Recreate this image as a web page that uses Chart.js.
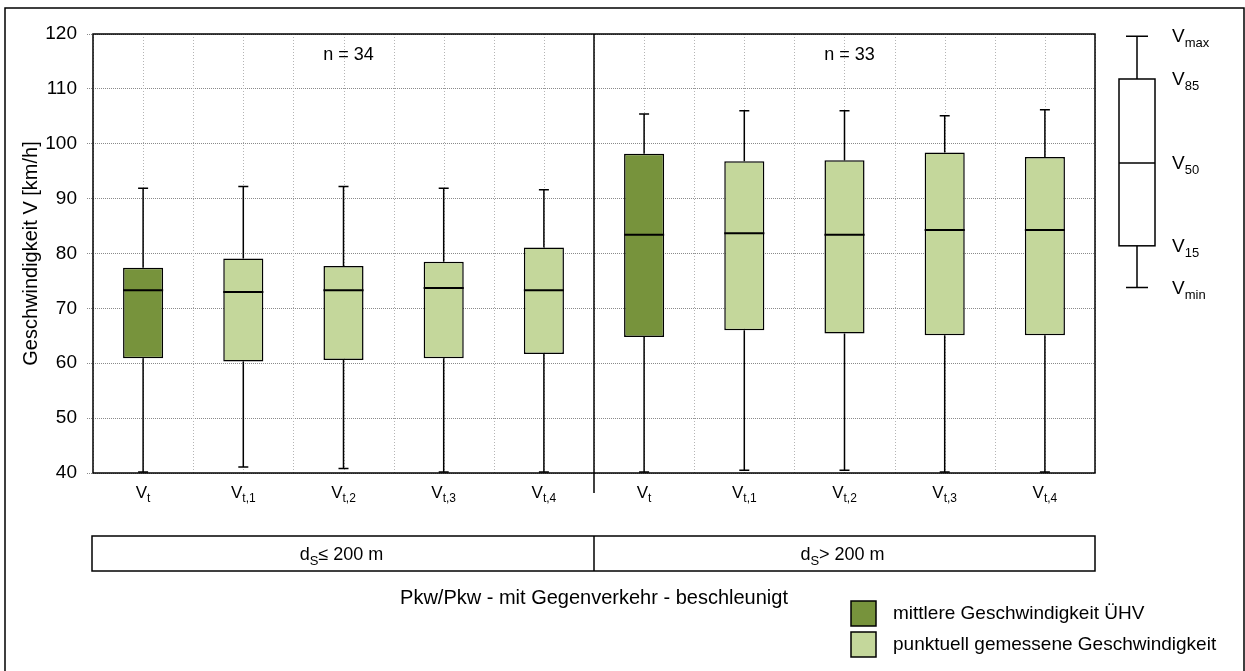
<!DOCTYPE html>
<html>
<head>
<meta charset="utf-8">
<script src="https://cdn.jsdelivr.net/npm/chart.js@4.4.1/dist/chart.umd.min.js"></script>
<style>
    body { margin: 0; background: #fff; }
    #boxChart { display: block; }
</style>
</head>
<body>
<canvas id="boxChart" width="1245" height="671"></canvas>
<script>
// Box plot: Geschwindigkeit V [km/h], Pkw/Pkw - mit Gegenverkehr - beschleunigt

const FONT = '"Liberation Sans", Arial, sans-serif';

// Categories (V with subscript)
const labelBase = ['V', 'V', 'V', 'V', 'V', 'V', 'V', 'V', 'V', 'V'];
const labelSub = ['t', 't,1', 't,2', 't,3', 't,4', 't', 't,1', 't,2', 't,3', 't,4'];

// Values per box (km/h)
const vMin = [40.2, 41.1, 40.8, 40.2, 40.2, 40.2, 40.5, 40.5, 40.2, 40.2];
const v15 = [60.9, 60.3, 60.6, 60.9, 61.7, 64.8, 66.0, 65.4, 65.1, 65.1];
const v50 = [73.3, 73.0, 73.3, 73.7, 73.3, 83.4, 83.7, 83.4, 84.3, 84.3];
const v85 = [77.4, 79.1, 77.7, 78.5, 81.1, 98.2, 96.8, 97.0, 98.4, 97.6];
const vMax = [91.9, 92.2, 92.2, 91.9, 91.6, 105.4, 106.0, 106.0, 105.1, 106.2];

// Group info
const groupLabels = [['d', 'S', '\u2264 200 m'], ['d', 'S', '> 200 m']];
const groupN = ['n = 34', 'n = 33'];
const groupSize = 5;

// Explanation key: V_min, V_15, V_50, V_85, V_max
const keyValues = [73.8, 81.4, 96.5, 111.8, 119.6];
const keySubs = ['min', '15', '50', '85', 'max'];

const yTicks = { min: 40, max: 120, step: 10 };

const colors = {
    dark: '#77933c',
    light: '#c4d79b',
    line: '#000000',
    gridY: '#8a8a8a',
    gridX: '#b4b4b4'
};

const boxColors = labelSub.map((s, i) => (i % groupSize === 0 ? colors.dark : colors.light));

// Draw base text + subscript (+ optional rest), centered or left aligned on x
function drawSubText(ctx, base, sub, rest, x, y, size, subSize, align) {
    ctx.font = size + 'px ' + FONT;
    const wBase = ctx.measureText(base).width;
    ctx.font = subSize + 'px ' + FONT;
    const wSub = ctx.measureText(sub).width;
    ctx.font = size + 'px ' + FONT;
    const wRest = rest ? ctx.measureText(rest).width : 0;
    const total = wBase + wSub + wRest;
    const x0 = align === 'left' ? x : x - total / 2;
    ctx.textAlign = 'left';
    ctx.textBaseline = 'alphabetic';
    ctx.fillText(base, x0, y);
    ctx.font = subSize + 'px ' + FONT;
    ctx.fillText(sub, x0 + wBase, y + Math.round(size * 0.25));
    if (rest) {
        ctx.font = size + 'px ' + FONT;
        ctx.fillText(rest, x0 + wBase + wSub, y);
    }
}

function drawWhiskers(ctx, xPx, y, i, capW) {
    const yMax = y.getPixelForValue(vMax[i]);
    const yQ3 = y.getPixelForValue(v85[i]);
    const yQ1 = y.getPixelForValue(v15[i]);
    const yMin = y.getPixelForValue(vMin[i]);
    ctx.beginPath();
    ctx.moveTo(xPx, yQ3); ctx.lineTo(xPx, yMax);
    ctx.moveTo(xPx - capW / 2, yMax); ctx.lineTo(xPx + capW / 2, yMax);
    ctx.moveTo(xPx, yQ1); ctx.lineTo(xPx, yMin);
    ctx.moveTo(xPx - capW / 2, yMin); ctx.lineTo(xPx + capW / 2, yMin);
    ctx.stroke();
}

// pixel of a fractional category position (i - 0.5 = left boundary)
function catPixel(x, v) {
    const step = x.getPixelForValue(1) - x.getPixelForValue(0);
    return x.getPixelForValue(0) + v * step;
}

const boxPlugin = {
    id: 'boxPlugin',
    beforeDraw(chart) {
        const ctx = chart.ctx;
        ctx.save();
        ctx.fillStyle = '#fff';
        ctx.fillRect(0, 0, chart.width, chart.height);
        // outer frame
        ctx.strokeStyle = '#000';
        ctx.lineWidth = 1.5;
        ctx.beginPath();
        ctx.moveTo(5, chart.height);
        ctx.lineTo(5, 8);
        ctx.lineTo(chart.width - 1, 8);
        ctx.lineTo(chart.width - 1, chart.height);
        ctx.stroke();
        ctx.restore();
    },
    beforeDatasetsDraw(chart) {
        const ctx = chart.ctx;
        const x = chart.scales.x;
        const y = chart.scales.y;
        const area = chart.chartArea;
        ctx.save();
        // dotted vertical grid at category centres and boundaries
        ctx.strokeStyle = colors.gridX;
        ctx.lineWidth = 1;
        ctx.setLineDash([1, 2]);
        for (let v = -0.5; v <= labelSub.length - 0.5; v += 0.5) {
            const px = Math.round(catPixel(x, v)) + 0.5;
            ctx.beginPath();
            ctx.moveTo(px, area.top);
            ctx.lineTo(px, area.bottom);
            ctx.stroke();
        }
        ctx.setLineDash([]);
        ctx.strokeStyle = colors.line;
        ctx.lineWidth = 1.5;
        for (let i = 0; i < labelSub.length; i++) {
            drawWhiskers(ctx, x.getPixelForValue(i), y, i, 10);
        }
        ctx.restore();
    },
    afterDatasetsDraw(chart) {
        const ctx = chart.ctx;
        const x = chart.scales.x;
        const y = chart.scales.y;
        const area = chart.chartArea;
        const bar = chart.getDatasetMeta(0).data;
        ctx.save();
        ctx.strokeStyle = colors.line;
        ctx.fillStyle = '#000';

        // medians
        ctx.lineWidth = 2;
        bar.forEach((b, i) => {
            const ym = y.getPixelForValue(v50[i]);
            ctx.beginPath();
            ctx.moveTo(b.x - b.width / 2, ym);
            ctx.lineTo(b.x + b.width / 2, ym);
            ctx.stroke();
        });

        // plot frame
        ctx.lineWidth = 1.5;
        ctx.strokeRect(area.left, area.top, area.right - area.left, area.bottom - area.top);

        // group separator
        const sepX = catPixel(x, groupSize - 0.5);
        ctx.beginPath();
        ctx.moveTo(sepX, area.top);
        ctx.lineTo(sepX, area.bottom + 20);
        ctx.stroke();

        // x labels with subscripts
        for (let i = 0; i < labelSub.length; i++) {
            drawSubText(ctx, labelBase[i], labelSub[i], '', x.getPixelForValue(i), area.bottom + 25, 17, 12);
        }

        // n = ..
        ctx.font = '18px ' + FONT;
        ctx.textAlign = 'center';
        ctx.textBaseline = 'middle';
        groupN.forEach((t, g) => {
            const cx = catPixel(x, g * groupSize + (groupSize - 1) / 2);
            ctx.fillText(t, cx + 5, area.top + 21);
        });

        // group box below the axis
        const gTop = 536, gBot = 571;
        ctx.strokeRect(area.left - 1, gTop, area.right - area.left + 1, gBot - gTop);
        ctx.beginPath();
        ctx.moveTo(sepX, gTop);
        ctx.lineTo(sepX, gBot);
        ctx.stroke();
        groupLabels.forEach((gl, g) => {
            const cx = catPixel(x, g * groupSize + (groupSize - 1) / 2);
            drawSubText(ctx, gl[0], gl[1], gl[2], cx - 2, 560, 18, 13);
        });

        // title under the chart
        ctx.font = '20px ' + FONT;
        ctx.textAlign = 'center';
        ctx.textBaseline = 'middle';
        ctx.fillText('Pkw/Pkw - mit Gegenverkehr - beschleunigt', sepX, 598);

        // legend squares
        const legendItems = [
            { color: colors.dark, text: 'mittlere Geschwindigkeit \u00dcHV', y: 601 },
            { color: colors.light, text: 'punktuell gemessene Geschwindigkeit', y: 632 }
        ];
        legendItems.forEach(it => {
            ctx.fillStyle = it.color;
            ctx.fillRect(851, it.y, 25, 25);
            ctx.lineWidth = 1.5;
            ctx.strokeRect(851, it.y, 25, 25);
            ctx.fillStyle = '#000';
            ctx.font = '19px ' + FONT;
            ctx.textAlign = 'left';
            ctx.textBaseline = 'middle';
            ctx.fillText(it.text, 893, it.y + 13);
        });

        // explanation key (box plot legend)
        const kx = area.right + 42;
        const kw = 36;
        const ky = keyValues.map(v => y.getPixelForValue(v));
        ctx.lineWidth = 1.5;
        ctx.strokeStyle = '#000';
        ctx.beginPath();
        ctx.moveTo(kx, ky[3]); ctx.lineTo(kx, ky[4]);
        ctx.moveTo(kx - 11, ky[4]); ctx.lineTo(kx + 11, ky[4]);
        ctx.moveTo(kx, ky[1]); ctx.lineTo(kx, ky[0]);
        ctx.moveTo(kx - 11, ky[0]); ctx.lineTo(kx + 11, ky[0]);
        ctx.stroke();
        ctx.fillStyle = '#fff';
        ctx.fillRect(kx - kw / 2, ky[3], kw, ky[1] - ky[3]);
        ctx.strokeRect(kx - kw / 2, ky[3], kw, ky[1] - ky[3]);
        ctx.beginPath();
        ctx.moveTo(kx - kw / 2, ky[2]); ctx.lineTo(kx + kw / 2, ky[2]);
        ctx.stroke();
        ctx.fillStyle = '#000';
        keySubs.forEach((s, i) => {
            drawSubText(ctx, 'V', s, '', kx + 35, ky[i] + 6, 19, 13, 'left');
        });

        ctx.restore();
    }
};

new Chart(document.getElementById('boxChart'), {
    type: 'bar',
    data: {
        labels: labelSub.map((s, i) => labelBase[i] + s),
        datasets: [{
            label: 'V15 - V85',
            data: v15.map((lo, i) => [lo, v85[i]]),
            backgroundColor: boxColors,
            borderColor: colors.line,
            borderWidth: 1.5,
            borderSkipped: false,
            barPercentage: 0.4,
            categoryPercentage: 1.0
        }]
    },
    options: {
        responsive: false,
        animation: false,
        layout: {
            padding: { left: 0, top: 34, right: 150, bottom: 198 }
        },
        plugins: {
            legend: { display: false },
            tooltip: { enabled: false }
        },
        scales: {
            x: {
                type: 'category',
                ticks: { display: false },
                grid: { display: false },
                border: { display: false },
                afterFit: s => { s.height = 0; }
            },
            y: {
                min: yTicks.min,
                max: yTicks.max,
                ticks: {
                    stepSize: yTicks.step,
                    color: '#000',
                    padding: 10,
                    font: { family: FONT, size: 19 }
                },
                grid: {
                    color: colors.gridY,
                    lineWidth: 1,
                    tickLength: 6,
                    tickBorderDash: [1, 1]
                },
                border: { display: false, dash: [1, 1] },
                title: {
                    display: true,
                    text: 'Geschwindigkeit V [km/h]',
                    color: '#000',
                    font: { family: FONT, size: 20 },
                    padding: { top: 19, bottom: 0 }
                },
                afterFit: s => { s.width = 93; }
            }
        }
    },
    plugins: [boxPlugin]
});
</script>
</body>
</html>
